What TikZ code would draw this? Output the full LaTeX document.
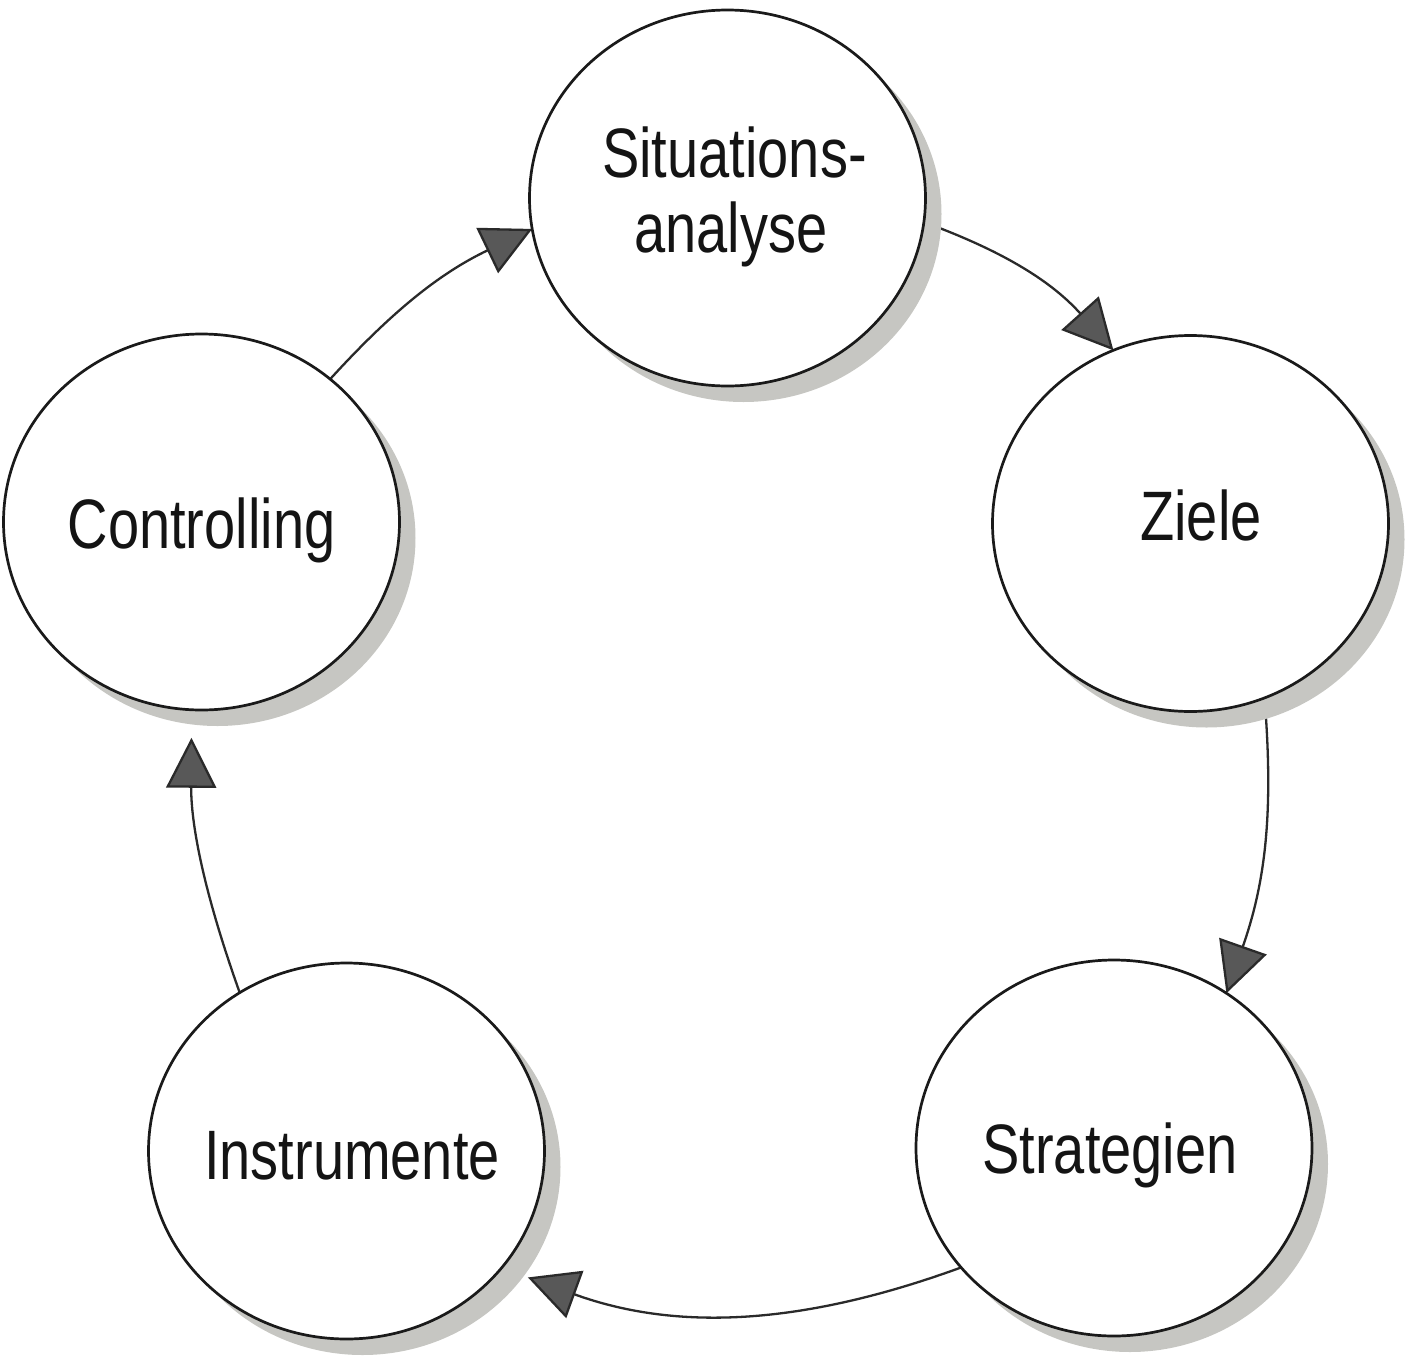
\documentclass[tikz,border=0pt]{standalone}
\usepackage{fontspec}
\setmainfont{Liberation Sans}
\usetikzlibrary{shapes.geometric,shadows,arrows.meta,backgrounds}
\definecolor{edgecol}{HTML}{1A1A1A}
\definecolor{linecol}{HTML}{2A2A2A}
\definecolor{tipcol}{HTML}{585858}
\definecolor{shadowcol}{HTML}{C6C6C2}
\begin{document}
\begin{tikzpicture}[x=0.5pt,y=0.5pt,
  stage/.style={ellipse, draw=edgecol, line width=1.35pt, fill=white,
    minimum width=198pt, minimum height=188pt, inner sep=0pt, outer sep=0pt,
    drop shadow={shadow xshift=8pt, shadow yshift=-8pt, fill=shadowcol, opacity=1}},
  stagetext/.style={font=\fontsize{35}{37.5}\selectfont, text=black!92, inner sep=0pt, anchor=base},
  flow/.style={draw=linecol, line width=1.15pt, line join=miter,
    -{Triangle[length=25pt,width=25pt,fill=tipcol]}}
]
\useasboundingbox (0,0) rectangle (1410,-1366);

\node[stage] (sit)   at (727.5,-198)   {};
\node[stage] (ziele) at (1190.5,-523.5) {};
\node[stage] (strat) at (1114,-1148)   {};
\node[stage] (instr) at (346.5,-1151)  {};
\node[stage] (ctrl)  at (201.5,-522)   {};

\node[stagetext] (sitA)   at (734.5,-177) {\scalebox{0.8}[1]{Situations-}};
\node[stagetext] (sitB)   at (731,-252)   {\scalebox{0.8}[1]{analyse}};
\node[stagetext] (zieleT) at (1201,-540)  {\scalebox{0.8}[1]{Ziele}};
\node[stagetext] (stratT) at (1110,-1173) {\scalebox{0.8}[1]{Strategien}};
\node[stagetext] (instrT) at (352,-1179)  {\scalebox{0.8}[1]{Instrumente}};
\node[stagetext] (ctrlT)  at (201.5,-548) {\scalebox{0.8}[1]{Controlling}};

\begin{scope}[on background layer]
\draw[flow] (sit.-7) to[bend left=14] (ziele.114);
\draw[flow] (ziele.-67) to[bend left=12] (strat.54);
\draw[flow, shorten >=14pt] (strat.218) to[bend left=20] (instr.-37);
\draw[flow, shorten >=14pt] (instr.124) to[bend left=10] (ctrl.-93);
\draw[flow] (ctrl.48) to[bend left=11] (sit.189);
\end{scope}
\end{tikzpicture}
\end{document}
